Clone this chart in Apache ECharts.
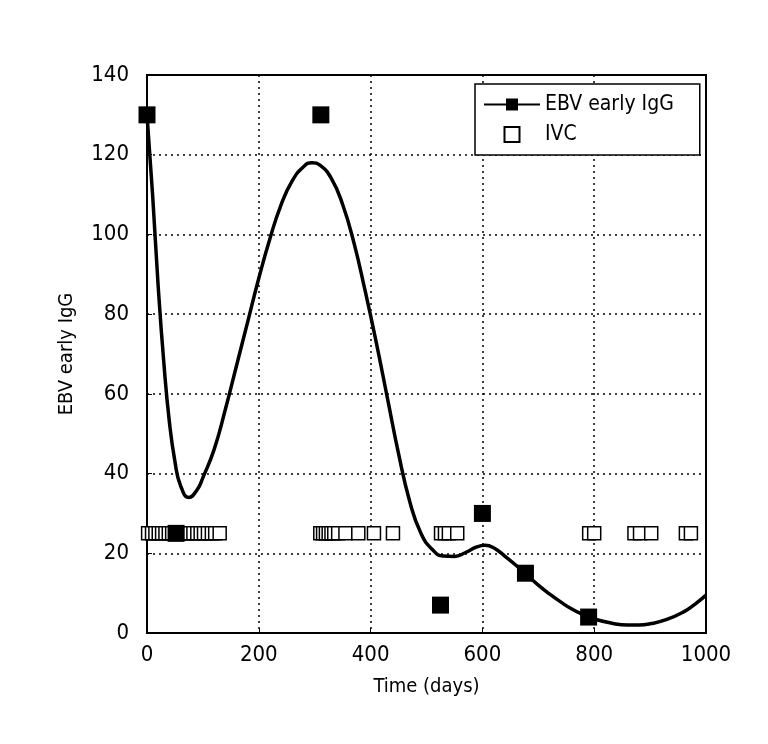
<!DOCTYPE html>
<html>
<head>
<meta charset="utf-8">
<script src="https://cdn.jsdelivr.net/npm/echarts@6/dist/echarts.min.js"></script>
<style>
    html, body { margin: 0; padding: 0; background: #fff; }
    #chart { width: 768px; height: 744px; }
</style>
</head>
<body>
<div id="chart"></div>
<script>
// measured EBV early IgG values (day, value)
const ebvDays = [0, 52, 311, 525, 600, 677, 790];
const ebvValues = [130, 25, 130, 7, 30, 15, 4];

// fitted curve
const curveDays = [0, 10, 20, 30, 40, 50, 60, 75, 90, 100, 120, 140, 160, 180, 200, 220, 240, 260, 280, 295,
    310, 330, 350, 370, 390, 410, 430, 450, 470, 490, 510, 530, 550, 570, 590, 605, 620, 640, 660, 680,
    700, 720, 740, 760, 780, 800, 830, 860, 880, 900, 930, 960, 980, 1000];
const curveValues = [130, 110, 87, 68, 53, 43, 37, 34, 36, 39, 46, 56, 67, 78, 89, 99, 107.5, 113.5, 117, 118,
    117.3, 114, 107.5, 98, 86, 73, 59, 45, 33, 25, 21, 19.3, 19.2, 20.2, 21.6, 22, 21.4, 19.3, 17, 14.5,
    12, 9.8, 7.8, 6, 4.6, 3.5, 2.5, 2, 2, 2.3, 3.4, 5.3, 7.2, 9.5];

// IVC treatment days, all drawn at the same level
const ivcDays = [2, 9, 15, 21, 27, 33, 39, 45, 58, 64, 70, 77, 83, 90, 96, 102, 109, 116, 122, 130,
    310, 315, 320, 325, 330, 335, 342, 355, 378, 406, 440,
    526, 533, 540, 555, 791, 800, 872, 882, 902, 964, 973];
const ivcLevel = 25;

const xTicks = { min: 0, max: 1000, interval: 200 };
const yTicks = { min: 0, max: 140, interval: 20 };

const font = '"DejaVu Sans Condensed", "Liberation Sans Narrow", sans-serif';

const chart = echarts.init(document.getElementById('chart'));

const option = {
    backgroundColor: '#fff',
    animation: false,
    grid: {
        left: 147,
        right: 62,
        top: 75,
        bottom: 111,
        show: true,
        borderColor: '#000',
        borderWidth: 2,
        backgroundColor: 'transparent'
    },
    legend: {
        orient: 'vertical',
        left: 475,
        top: 84,
        padding: [10, 26, 10, 8],
        itemWidth: 56,
        itemHeight: 15,
        itemGap: 9,
        borderColor: '#000',
        borderWidth: 1.5,
        backgroundColor: '#fff',
        textStyle: { fontFamily: font, fontSize: 21, color: '#000' },
        data: [
            { name: 'EBV early IgG' },
            { name: 'IVC', icon: 'path://M0,0H10V10H0Z' }
        ]
    },
    xAxis: {
        type: 'value',
        min: xTicks.min,
        max: xTicks.max,
        interval: xTicks.interval,
        name: 'Time (days)',
        nameLocation: 'middle',
        nameGap: 44,
        nameTextStyle: { fontFamily: font, fontSize: 20, color: '#000' },
        axisLine: { show: true, lineStyle: { color: '#000', width: 2 } },
        axisTick: { show: true, inside: true, length: 5, lineStyle: { color: '#000' } },
        axisLabel: { fontFamily: font, fontSize: 22, color: '#000', margin: 11, formatter: (v) => String(v) },
        splitLine: { show: true, lineStyle: { color: '#000', type: [2, 4], width: 1.5 } }
    },
    yAxis: {
        type: 'value',
        min: yTicks.min,
        max: yTicks.max,
        interval: yTicks.interval,
        name: 'EBV early IgG',
        nameLocation: 'middle',
        nameGap: 70,
        nameTextStyle: { fontFamily: font, fontSize: 20, color: '#000' },
        axisLine: { show: true, lineStyle: { color: '#000', width: 2 } },
        axisTick: { show: true, inside: true, length: 5, lineStyle: { color: '#000' } },
        axisLabel: { fontFamily: font, fontSize: 22, color: '#000', margin: 18 },
        splitLine: { show: true, lineStyle: { color: '#000', type: [2, 4], width: 1.5 } }
    },
    series: [
        {
            name: 'EBV early IgG',
            type: 'line',
            data: curveDays.map((d, i) => [d, curveValues[i]]),
            smooth: 0.5,
            symbol: 'rect',
            showSymbol: false,
            itemStyle: { color: '#000' },
            lineStyle: { color: '#000', width: 3.5 },
            z: 3
        },
        {
            name: 'IVC',
            type: 'scatter',
            data: ivcDays.map((d) => [d, ivcLevel]),
            symbol: 'rect',
            symbolSize: 13,
            itemStyle: { color: '#fff', borderColor: '#000', borderWidth: 1.5, opacity: 1 },
            z: 4
        },
        {
            name: 'EBV early IgG',
            type: 'scatter',
            data: ebvDays.map((d, i) => [d, ebvValues[i]]),
            symbol: 'rect',
            symbolSize: 17,
            itemStyle: { color: '#000', opacity: 1 },
            clip: false,
            z: 5
        }
    ]
};

chart.setOption(option);
</script>
</body>
</html>
